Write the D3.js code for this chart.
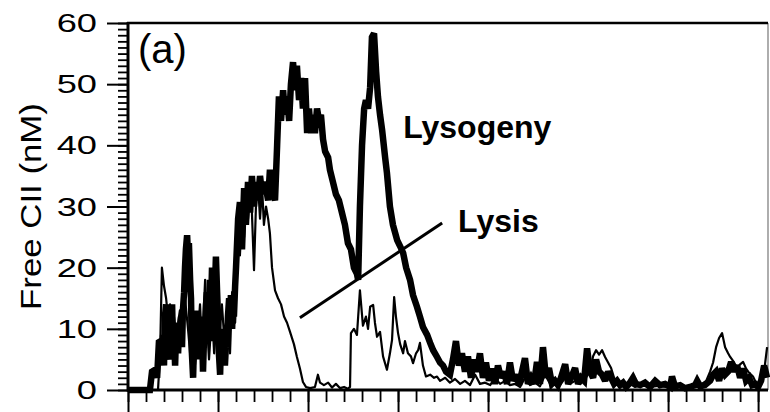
<!DOCTYPE html>
<html>
<head>
<meta charset="utf-8">
<script src="https://cdn.jsdelivr.net/npm/d3@7"></script>
<style>
  html, body { margin: 0; padding: 0; background: #fff; }
  svg { display: block; }
  text { font-family: "Liberation Sans", Arial, Helvetica, sans-serif; fill: #000; }
</style>
</head>
<body>
<svg id="chart" width="770" height="412"></svg>
<script>
// Free CII traces: [time, concentration (nM)]
const lysogenyTrace = [
  [0,0],[7.3,0],[8,3],[9,3.3],[9.7,2],[10.3,7.8],[11,8],[11.3,5],[11.7,9],[12,4],
  [12.3,12],[12.7,14],[13,9],[13.3,12],[13.7,6],[14,5],[14.3,11],[14.7,14],[15,7],[15.3,10],
  [15.7,4],[16,9],[16.3,11],[16.7,6],[17,10],[17.3,8],[17.7,12],[18,7],[18.3,13],[18.7,16],
  [19,20],[19.3,23],[19.7,25.3],[20,22],[20.3,24],[20.7,18],[21,15],[21.3,6],[21.7,2],[22,8],
  [22.3,5],[22.7,10],[23,13],[23.3,5],[23.7,11],[24,12],[24.3,7],[24.7,9],[25,3],[25.3,8],
  [25.7,9],[26,14],[26.3,16],[26.7,8],[27,11],[27.3,18],[27.7,14],[28,20],[28.3,12],[28.7,8],
  [29,17],[29.3,21.8],[29.7,16],[30,12],[30.3,6],[30.7,2.5],[31,8],[31.3,10],[31.7,6],[32,9],
  [32.3,4],[32.7,8],[33,7],[33.3,12],[33.7,15],[34,11],[34.3,15.5],[34.7,10],[35,14],[35.3,12],
  [35.7,17],[36,20],
  [36.7,28],[37.3,30.7],[38,23],[38.7,33],[39.3,27],[40,34],[40.7,29],[41.3,35],[42,30],[42.7,34],
  [43.3,31],[44,35],[44.7,32],[45.3,34],[46,33],[46.7,31],[47.3,36],[48,33],[49,31],[49.7,40],
  [50.3,48],[51,44],[51.7,49],[52.3,45],[53,48],[53.7,44],[54.3,50],[55,53.6],[55.7,49],[56.3,53],
  [57,47.4],[57.7,51],[58.3,46],[59,51],[59.7,42],[60.3,46],[61,42],[61.7,45],[62.3,42],[63,46],
  [63.7,44],[64.3,45],[65,41],[65.7,39],[66.7,38],[67.3,36],[68.3,34],[69.3,32],[70.3,31],[71.3,29],
  [72.3,27],[73.3,24],[74.3,23],[75.3,20],[76.3,19],[76.7,18],[77.3,30],[78,40],[78.7,46],[79.3,47.4],
  [80,46],[80.7,49.5],[81.3,57.7],[82,58.3],[82.7,52],[83.3,48],[84,45],[84.7,42.5],[85.7,38],[86.3,35.5],
  [87.3,30],[88.3,27],[89.7,24.5],[90.7,23.5],[91.7,22.4],[92.7,20],[94,18],[95,15.5],[96.3,13.6],[97.3,12],
  [98.3,10.3],[99.7,9],[100.7,7.7],[101.7,6.5],[103,5.4],[104,4.5],[105,4],[106,3],[107.3,2.5],[108.3,5],
  [109.3,8],[110.3,4],[111.3,6],[112.3,3],[113.3,5.5],[114.3,2],[115.3,5],[116.3,3],[117.3,6],[118.3,2],
  [119.3,4.5],[120.3,1.5],[121.3,3.5],[122.3,1],[123.3,4],[124.3,2],[125.3,3],[126.3,1],[127.3,4.5],[128.3,1.5],
  [129.3,2.5],[130.3,0.8],[131.3,3],[132.3,5.2],[133.3,1],[134.3,2],[135.3,1],[136.3,4.6],[137.3,1],[138.3,7],
  [139.3,2],[140.3,3.6],[141.3,1],[142.3,1.5],[143.3,0.8],[144.3,2],[145.7,4.2],[146.7,1],[147.7,2],[149,3.6],
  [150,1],[151,2],[152,1.5],[153,6.8],[154,3],[155,2],[156,5],[157,3],[158,2.5],[159,1.5],
  [160,3],[161,2],[162,1],[163,1.5],[164,0.8],[165,1.2],[166,0.5],[167,1],[168.3,2],[169.3,1],
  [170.7,0.8],[172.3,1.2],[174,0.5],[175.7,1.5],[177.3,0.8],[179,1],[180.7,0.5],[181.3,2.2],[182.3,0.6],[184,0.8],
  [185.7,0.3],[187.3,0.5],[189,0.8],[189.7,1.5],[190.7,0.6],[192.3,0.8],[194,1.5],[195,2.5],[196,3],[197,1.5],
  [198,3.5],[199,2.5],[200,3],[201,4.6],[202,3],[203,4],[204,2],[205,3.5],[206,1.5],[207,2],
  [208,0.8],[209,1],[210,0.5],[211,1.5],[212,4],[213,2]
];

const lysisTrace = [
  [0,0],[10,0],[10.7,6],[11.3,20],[12,17],[12.7,15],[13.3,12],[14,14],[14.7,10],[15.3,12],
  [16,9],[16.7,11],[17.3,13],[18.3,8],[19,15],[20,10],[20.7,6],[21.7,12],[22.3,4],[23.3,9],
  [24,14],[24.7,7],[25.7,18],[26.3,11],[27,5],[28,13],[28.7,6],[29.7,12],[30.3,8],[31.3,14],
  [32,9],[33,12],[34,6],[34.7,16],[35.7,11],[36.7,24],[37.3,22],[38,29],[38.7,25],[39.3,32],
  [40,28],[40.7,33],[41.3,29],[42,19.6],[42.7,31],[43.3,34],[44,28],[44.7,33],[45.3,27],[46,30],
  [46.7,28],[47.3,25.6],[48,20],[49,16.3],[50,15],[51,14],[52,12],[53,11],[54,9.5],[55.3,7.5],
  [56.3,5.4],[57.3,3.5],[58.3,1.3],[59.3,0.5],[60.7,0.3],[62.3,0.5],[63.3,2.5],[64,1.2],[65.3,0.8],[66.7,1.2],
  [68,0.4],[69.3,1],[70.7,0.3],[72,0.5],[73.3,0.2],[74,0.5],[74.3,9.3],[75.3,10],[76.3,9],[77.3,16.3],
  [78.3,10.5],[79.3,12],[80,10],[80.7,13.6],[81.7,13.9],[82.3,11],[83,8.7],[84,9.5],[85,5.5],[86.3,3.3],
  [87.3,6],[88,8.2],[88.7,15.2],[89.3,12],[90,9.3],[90.7,7.5],[91.7,6],[92.3,8],[93.3,6],[94.3,5.5],
  [95,4.4],[96,6],[96.7,6.5],[97.3,7.7],[98.3,4],[99.3,2.2],[100.7,2.5],[102,2],[103,2.2],[104,1.5],
  [105.7,2],[107.3,1.2],[109,1.8],[110.7,1],[112.3,1.5],[114,0.8],[115.7,2.5],[117.3,1],[119,1.2],[120.7,0.8],
  [122.3,2],[124,1],[125.7,1.5],[127.3,0.8],[129,1],[130.7,0.5],[132.3,2],[134,0.8],[135.7,1.2],[137.3,0.6],
  [139,2.5],[140.7,1],[142.3,1.2],[144,0.8],[145.7,2],[147.3,1],[149,1.5],[150.7,1],[152.3,1.8],[154,3],
  [155,5.5],[156,6.5],[157,5.8],[158,6.5],[159,5.4],[160,4.5],[161,3.6],[162,2],[163,1.2],[164,1],
  [165.7,0.6],[167.3,1],[169,0.5],[170.7,0.8],[174,0.5],[177.3,0.7],[180.7,0.4],[184,0.5],[187.3,0.6],[190.7,0.8],
  [192.7,1.5],[194,3],[195,4.5],[196,7],[197,8.5],[198,9.3],[199,7],[200,6],[200.7,5.4],[202,4.5],
  [203,3.6],[204,4.2],[205,4.6],[206,3.5],[206.7,3],[207.7,2.5],[208.3,2.2],[209.3,1.2],[210,0.5],[211,1],
  [212,3],[213,7]
];

const yTickValues = [0, 10, 20, 30, 40, 50, 60];
const yAxisTitle = "Free CII (nM)";
const panelLabel = "(a)";
// annotation text with its anchor point [time, nM]
const seriesLabels = [
  { text: "Lysogeny", at: [91.7, 41.2] },
  { text: "Lysis", at: [110, 25.8] }
];
// pointer stroke from the lysis trace to its label
const pointerLine = [[57.3, 11.8], [104.7, 27.3]];

const W = 770, H = 412;
const margin = { top: 23, right: 2, bottom: 22, left: 128 };
const svg = d3.select("#chart");

const x = d3.scaleLinear().domain([0, 213.3]).range([margin.left, W - margin.right]);
const y = d3.scaleLinear().domain([0, 60]).range([H - margin.bottom, margin.top]);

// ---- axes ----
const yMinor = d3.range(0, 61, 1);
const xMinor = d3.range(0, 214, 6);
const xMajor = d3.range(0, 214, 30);

function styleTicks(g, w) {
  g.select(".domain").remove();
  g.selectAll(".tick line").attr("stroke", "#000").attr("stroke-width", w);
}

svg.append("g")
  .attr("transform", `translate(${margin.left},0)`)
  .call(d3.axisLeft(y).tickValues(yMinor).tickSize(10).tickFormat(""))
  .call(g => styleTicks(g, 1.8));

const yMajorG = svg.append("g")
  .attr("transform", `translate(${margin.left},0)`)
  .call(d3.axisLeft(y).tickValues(yTickValues).tickSize(21).tickFormat(d3.format("d")))
  .call(g => styleTicks(g, 2));

const labelStretch = 1.45;
yMajorG.selectAll(".tick text")
  .attr("font-size", 25)
  .attr("text-anchor", "end")
  .attr("x", -31 / labelStretch)
  .attr("dy", "0.34em")
  .attr("transform", `scale(${labelStretch},1)`)
  .attr("fill", "#000")
  .style("font-family", '"Liberation Sans", Arial, sans-serif');

svg.append("g")
  .attr("transform", `translate(0,${H - margin.bottom})`)
  .call(d3.axisBottom(x).tickValues(xMinor).tickSize(12).tickFormat(""))
  .call(g => styleTicks(g, 1.8));

svg.append("g")
  .attr("transform", `translate(0,${H - margin.bottom})`)
  .call(d3.axisBottom(x).tickValues(xMajor).tickSize(22).tickFormat(""))
  .call(g => styleTicks(g, 2));

// ---- frame ----
const x0 = x.range()[0], x1 = x.range()[1], yb = y.range()[0], yt = y.range()[1];
svg.append("line").attr("x1", x1).attr("x2", x1).attr("y1", yt).attr("y2", yb)
  .attr("stroke", "#777").attr("stroke-width", 1.2);
svg.append("line").attr("x1", x0 - 1).attr("x2", x1).attr("y1", yt).attr("y2", yt)
  .attr("stroke", "#000").attr("stroke-width", 2.6);

// ---- traces ----
const line = d3.line().x(d => x(d[0])).y(d => y(d[1]));

svg.append("path").datum(lysisTrace)
  .attr("d", line).attr("fill", "none")
  .attr("stroke", "#000").attr("stroke-width", 2.2)
  .attr("stroke-linejoin", "round");

svg.append("path").datum(lysogenyTrace)
  .attr("d", line).attr("fill", "none")
  .attr("stroke", "#000").attr("stroke-width", 6.5)
  .attr("stroke-linejoin", "miter")
  .attr("stroke-miterlimit", 2.5);

svg.append("path").datum(pointerLine)
  .attr("d", line).attr("fill", "none")
  .attr("stroke", "#000").attr("stroke-width", 3);

// axis lines drawn over the traces
svg.append("line").attr("x1", x0).attr("x2", x0).attr("y1", yt - 1).attr("y2", yb + 1.5)
  .attr("stroke", "#000").attr("stroke-width", 3);
svg.append("line").attr("x1", x0 - 1).attr("x2", x1).attr("y1", yb).attr("y2", yb)
  .attr("stroke", "#000").attr("stroke-width", 3);

// ---- text ----
svg.selectAll("text.series-label")
  .data(seriesLabels)
  .join("text")
  .attr("class", "series-label")
  .attr("x", d => x(d.at[0]))
  .attr("y", d => y(d.at[1]))
  .attr("font-size", 32)
  .attr("font-weight", "bold")
  .text(d => d.text);

svg.append("text")
  .attr("x", x(3.3))
  .attr("y", y(53.5))
  .attr("font-size", 40)
  .text(panelLabel);

svg.append("text")
  .attr("transform", `translate(41,${(yt + yb) / 2}) rotate(-90) scale(1.2,1)`)
  .attr("text-anchor", "middle")
  .attr("font-size", 29)
  .text(yAxisTitle);
</script>
</body>
</html>
